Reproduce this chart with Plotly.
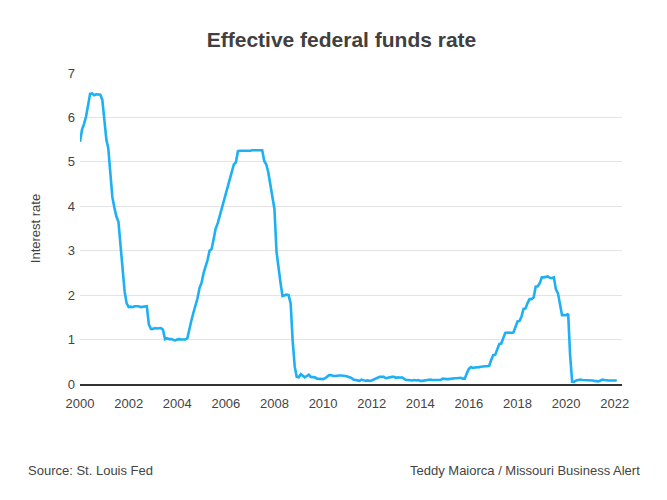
import pandas as pd
import plotly.graph_objects as go

title_text = "Effective federal funds rate"
y_title = "Interest rate"
source_text = "Source: St. Louis Fed"
credit_text = "Teddy Maiorca / Missouri Business Alert"

start_month = "2000-01-01"
# Monthly effective federal funds rate (%), Jan 2000 - Feb 2022
rates = [
    5.45, 5.73, 5.85, 6.02, 6.27, 6.53, 6.54, 6.50, 6.52, 6.51, 6.51, 6.40,
    5.98, 5.49, 5.31, 4.80, 4.21, 3.97, 3.77, 3.65, 3.07, 2.49, 2.09, 1.82,
    1.73, 1.74, 1.73, 1.75, 1.75, 1.75, 1.73, 1.74, 1.75, 1.75, 1.34, 1.24,
    1.24, 1.26, 1.25, 1.26, 1.26, 1.22, 1.01, 1.03, 1.01, 1.01, 1.00, 0.98,
    1.00, 1.01, 1.00, 1.00, 1.00, 1.03, 1.26, 1.43, 1.61, 1.76, 1.93, 2.16,
    2.28, 2.50, 2.63, 2.79, 3.00, 3.04, 3.26, 3.50, 3.62, 3.78, 4.00, 4.16,
    4.29, 4.49, 4.59, 4.79, 4.94, 4.99, 5.24, 5.25, 5.25, 5.25, 5.25, 5.24,
    5.25, 5.26, 5.26, 5.25, 5.25, 5.25, 5.26, 5.02, 4.94, 4.76, 4.49, 4.24,
    3.94, 2.98, 2.61, 2.28, 1.98, 2.00, 2.01, 2.00, 1.81, 0.97, 0.39, 0.16,
    0.15, 0.22, 0.18, 0.15, 0.18, 0.21, 0.16, 0.16, 0.15, 0.12, 0.12, 0.12,
    0.11, 0.13, 0.16, 0.20, 0.20, 0.18, 0.18, 0.19, 0.19, 0.19, 0.19, 0.18,
    0.17, 0.16, 0.14, 0.10, 0.09, 0.09, 0.07, 0.10, 0.08, 0.07, 0.08, 0.07,
    0.08, 0.10, 0.13, 0.14, 0.16, 0.16, 0.16, 0.13, 0.14, 0.16, 0.16, 0.16,
    0.14, 0.15, 0.14, 0.15, 0.11, 0.09, 0.09, 0.08, 0.08, 0.09, 0.08, 0.09,
    0.07, 0.07, 0.08, 0.09, 0.09, 0.10, 0.09, 0.09, 0.09, 0.09, 0.09, 0.12,
    0.11, 0.11, 0.11, 0.12, 0.12, 0.13, 0.13, 0.14, 0.14, 0.12, 0.12, 0.24,
    0.34, 0.38, 0.36, 0.37, 0.37, 0.38, 0.39, 0.40, 0.40, 0.40, 0.41, 0.54,
    0.65, 0.66, 0.79, 0.90, 0.91, 1.04, 1.15, 1.16, 1.15, 1.15, 1.16, 1.30,
    1.41, 1.42, 1.51, 1.69, 1.70, 1.82, 1.91, 1.91, 1.95, 2.19, 2.20, 2.27,
    2.40, 2.40, 2.41, 2.42, 2.39, 2.38, 2.40, 2.13, 2.04, 1.83, 1.55, 1.55,
    1.55, 1.58, 0.65, 0.05, 0.05, 0.08, 0.09, 0.10, 0.09, 0.09, 0.09, 0.09,
    0.09, 0.08, 0.07, 0.07, 0.06, 0.08, 0.10, 0.09, 0.08, 0.08, 0.08, 0.08,
    0.08, 0.08,
]
x_tick_years = list(range(2000, 2023, 2))
y_ticks = [0, 1, 2, 3, 4, 5, 6, 7]

dates = pd.date_range(start_month, periods=len(rates), freq="MS")

fig = go.Figure()
fig.add_trace(go.Scatter(
    x=dates, y=rates, mode="lines",
    line=dict(color="#1eb0f5", width=2.6),
    hoverinfo="skip",
))

font_family = "Liberation Sans, Arial, sans-serif"
fig.update_layout(
    width=667, height=500,
    paper_bgcolor="white", plot_bgcolor="white",
    margin=dict(l=72, r=53, t=65, b=124),
    showlegend=False,
    font=dict(family=font_family, color="#444", size=13),
    title=dict(text="<b>" + title_text + "</b>", x=0.5, xanchor="center",
               y=0.936, yanchor="middle", font=dict(size=21, color="#404040")),
    xaxis=dict(
        type="date",
        range=["2000-01-01", "2022-04-20"],
        tickvals=[f"{y}-01-01" for y in x_tick_years],
        ticktext=[str(y) for y in x_tick_years],
        showgrid=False, zeroline=False,
        showline=True, linecolor="#333", linewidth=1.5,
        ticks="", ticklabelstandoff=7,
        tickfont=dict(size=13, color="#444"),
    ),
    yaxis=dict(
        range=[0, 7], tickvals=y_ticks,
        showgrid=True, gridcolor="#e4e4e4", gridwidth=1,
        zeroline=False, ticks="", showline=False,
        ticklabelstandoff=4,
        tickfont=dict(size=13, color="#444"),
        title=dict(text=y_title, font=dict(size=13, color="#444"), standoff=24),
    ),
)

fig.add_annotation(text=source_text, xref="paper", yref="paper",
                   x=-0.1, y=-0.277, xanchor="left", yanchor="middle",
                   showarrow=False, font=dict(size=13, color="#444"))
fig.add_annotation(text=credit_text, xref="paper", yref="paper",
                   x=1.036, y=-0.277, xanchor="right", yanchor="middle",
                   showarrow=False, font=dict(size=13, color="#444"))

fig.write_html("out.html")
